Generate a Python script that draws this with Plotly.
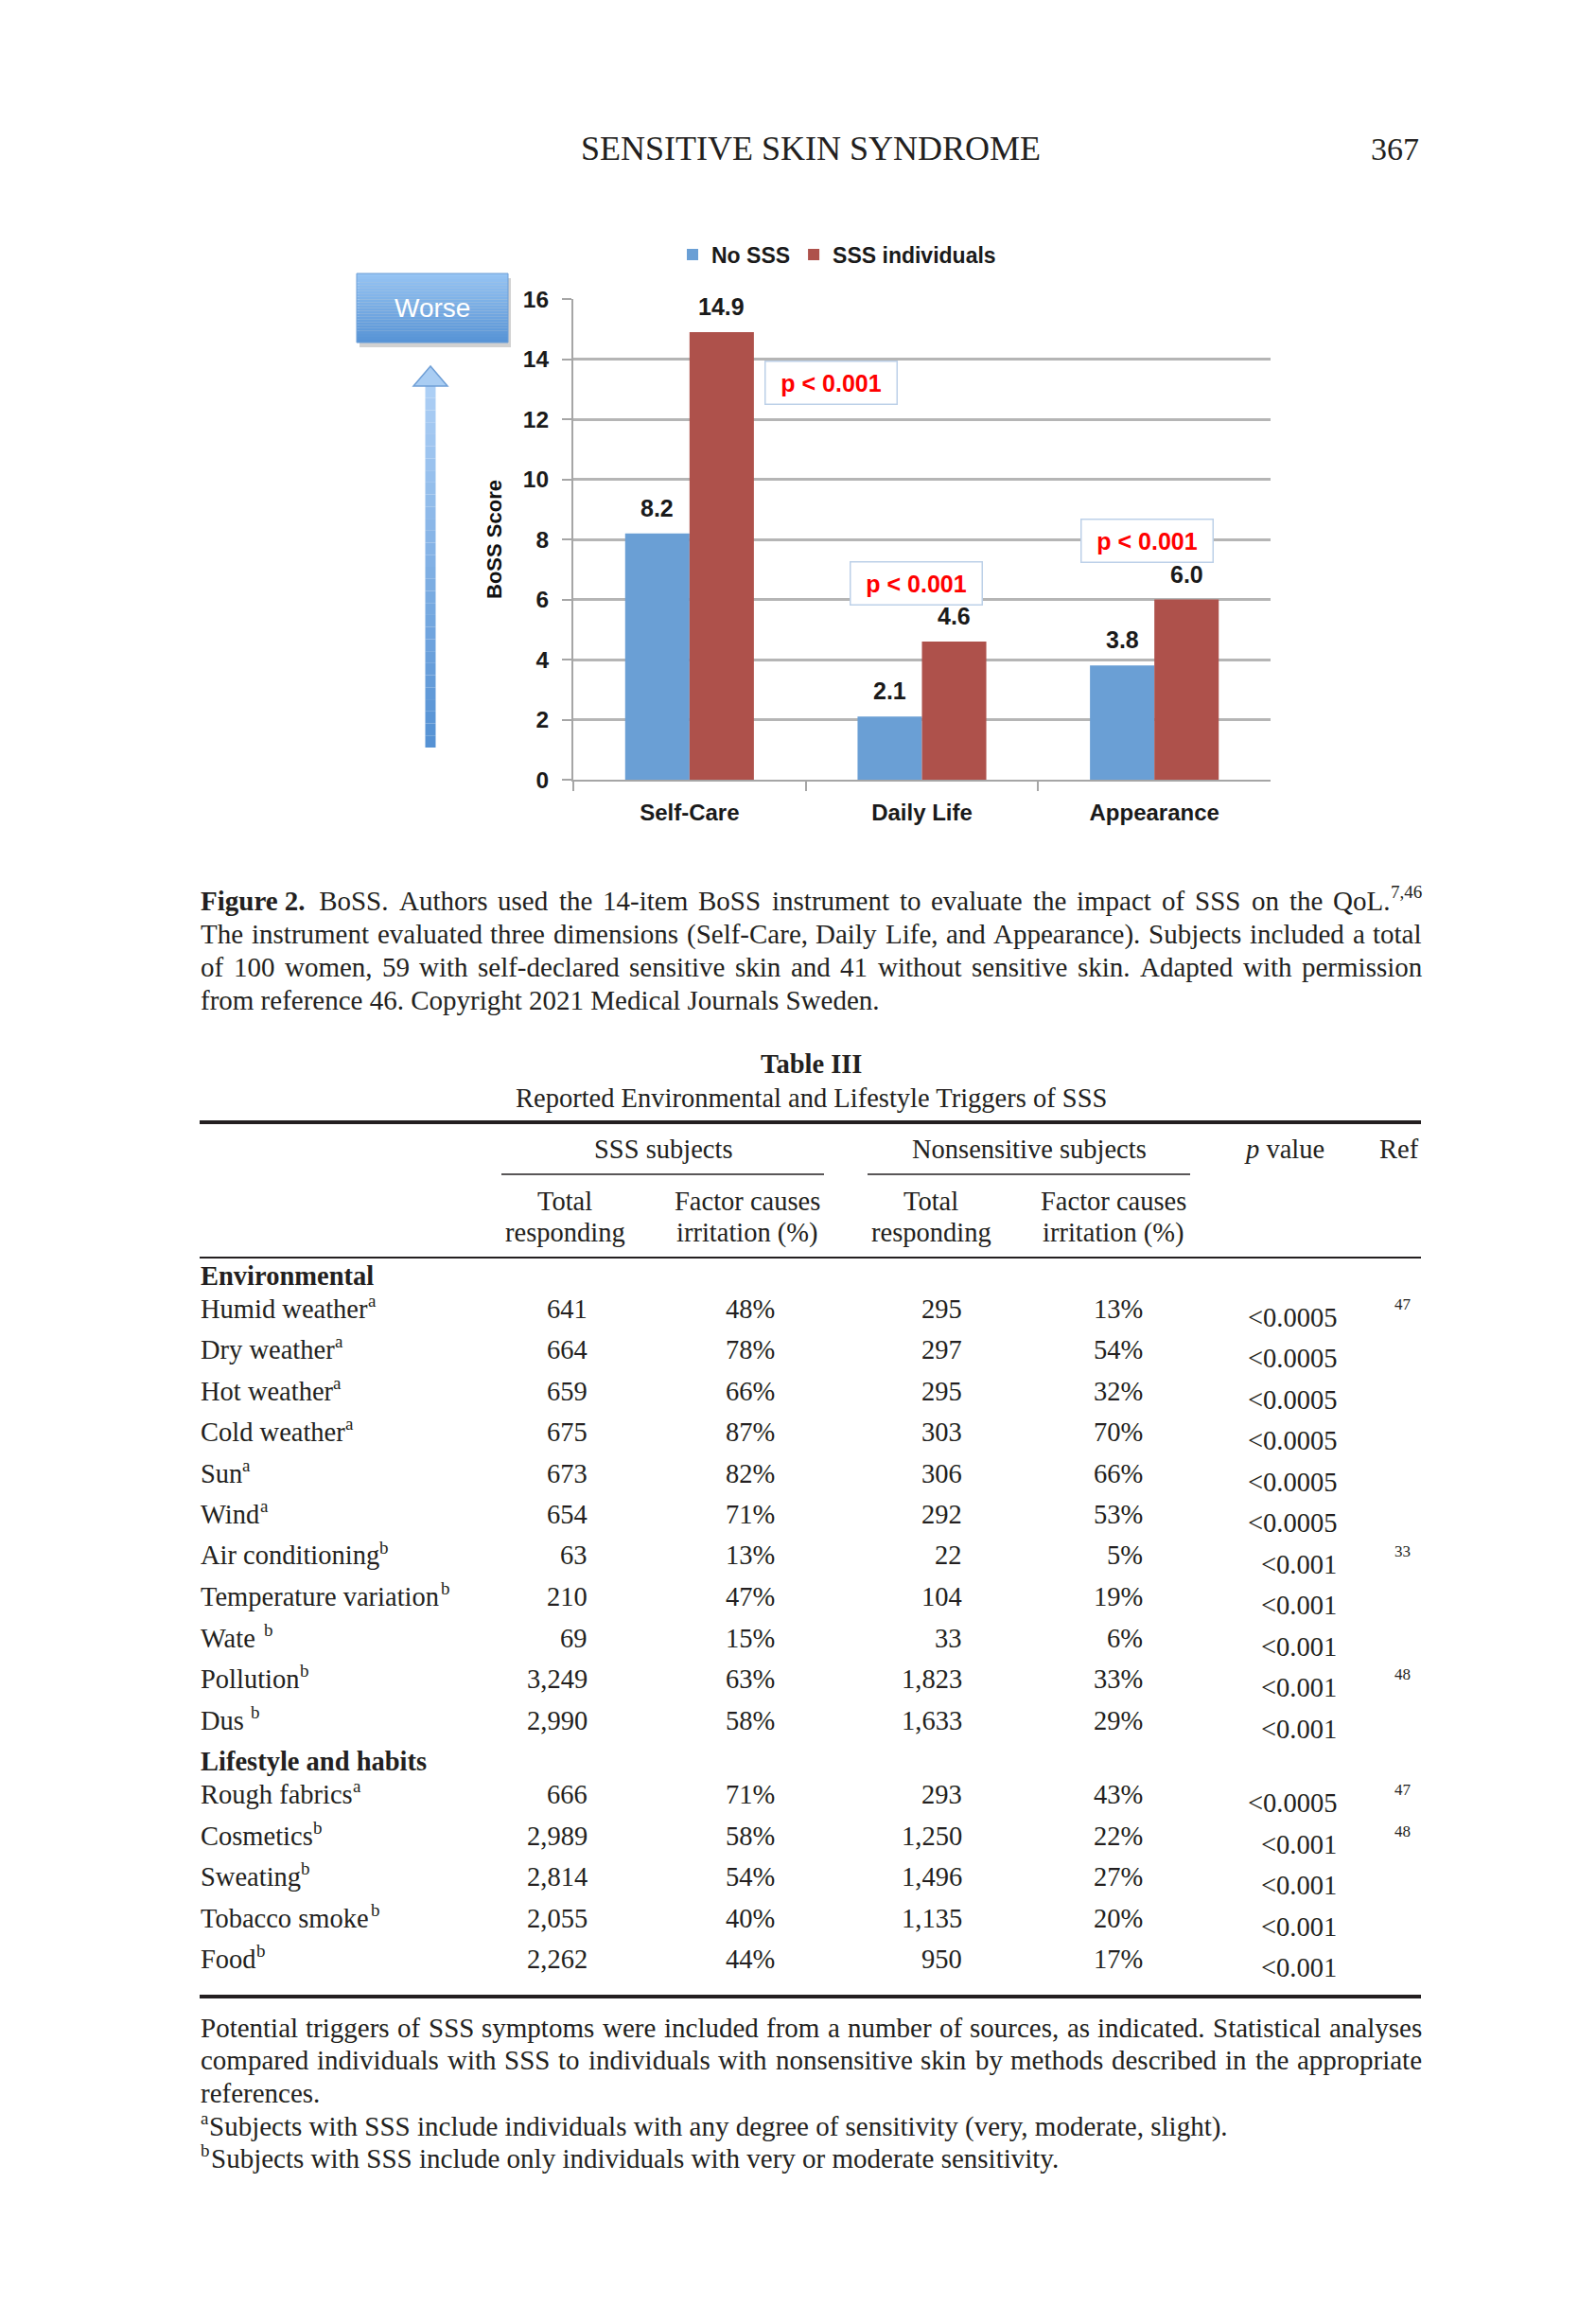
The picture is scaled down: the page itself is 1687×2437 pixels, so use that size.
import re
import plotly.graph_objects as go

W, H = 1687, 2437
OFF = 8  # default page body margin of the written html


def px(x):
    return (x - OFF) / W


def py(y):
    return 1 - (y - OFF) / H


# ---------------- chart data ----------------
categories = ["Self-Care", "Daily Life", "Appearance"]
no_sss = [8.2, 2.1, 3.8]
sss_individuals = [14.9, 4.6, 6.0]
series_names = ["No SSS", "SSS individuals"]
p_labels = ["p < 0.001", "p < 0.001", "p < 0.001"]
p_box_x = [0.61, 0.976, 1.967]
p_box_y = [13.2, 6.55, 7.94]
y_ticks = [0, 2, 4, 6, 8, 10, 12, 14, 16]

# ---------------- table data ----------------
section_names = ["Environmental", "Lifestyle and habits"]
section_sizes = [11, 5]
triggers = ["Humid weather", "Dry weather", "Hot weather", "Cold weather", "Sun", "Wind",
            "Air conditioning", "Temperature variation", "Wate ", "Pollution", "Dus ",
            "Rough fabrics", "Cosmetics", "Sweating", "Tobacco smoke", "Food"]
trigger_notes = ["a", "a", "a", "a", "a", "a", "b", "b", "b", "b", "b", "a", "b", "b", "b", "b"]
sss_total = [641, 664, 659, 675, 673, 654, 63, 210, 69, 3249, 2990, 666, 2989, 2814, 2055, 2262]
sss_pct = [48, 78, 66, 87, 82, 71, 13, 47, 15, 63, 58, 71, 58, 54, 40, 44]
ns_total = [295, 297, 295, 303, 306, 292, 22, 104, 33, 1823, 1633, 293, 1250, 1496, 1135, 950]
ns_pct = [13, 54, 32, 70, 66, 53, 5, 19, 6, 33, 29, 43, 22, 27, 20, 17]
p_values = ["<0.0005"] * 6 + ["<0.001"] * 5 + ["<0.0005"] + ["<0.001"] * 4
refs = ["47", "", "", "", "", "", "33", "", "", "48", "", "47", "48", "", "", ""]

NB = "\u00a0"
# caption / footnote lines: (superscript before, text, superscript after)
caption_lines = [
    ("", "<b>Figure" + NB + "2.</b>" + NB + NB + "BoSS. Authors used the 14-item BoSS instrument to evaluate the impact of SSS on the QoL.", "7,46"),
    ("", "The instrument evaluated three dimensions (Self-Care, Daily Life, and Appearance). Subjects included a total", ""),
    ("", "of 100 women, 59 with self-declared sensitive skin and 41 without sensitive skin. Adapted with permission", ""),
    ("", "from reference 46. Copyright 2021 Medical Journals Sweden.", ""),
]
footnote_lines = [
    ("", "Potential triggers of SSS symptoms were included from a number of sources, as indicated. Statistical analyses", ""),
    ("", "compared individuals with SSS to individuals with nonsensitive skin by methods described in the appropriate", ""),
    ("", "references.", ""),
    ("a", "Subjects with SSS include individuals with any degree of sensitivity (very, moderate, slight).", ""),
    ("b", "Subjects with SSS include only individuals with very or moderate sensitivity.", ""),
]

# ---------------- styles ----------------
CH = "Liberation Sans, Arial, sans-serif"
SERIF = "Liberation Serif, Times New Roman, serif"
TXT = "#231f20"
DARK = "#1a1a1a"
BLUE = "#6a9fd5"
RED = "#ae514b"
BARGAP = 0.446

# Times metrics (Liberation Serif is metric compatible)
TR = {' ': 250, NB: 250, '(': 333, ')': 333, ',': 250, '-': 333, '.': 250, ':': 278, '%': 833,
      'A': 722, 'B': 667, 'C': 667, 'D': 722, 'E': 611, 'F': 556, 'G': 722, 'H': 722, 'I': 333,
      'J': 389, 'K': 722, 'L': 611, 'M': 889, 'N': 722, 'O': 722, 'P': 556, 'Q': 722, 'R': 667,
      'S': 556, 'T': 611, 'U': 722, 'V': 722, 'W': 944, 'X': 722, 'Y': 722, 'Z': 611,
      'a': 444, 'b': 500, 'c': 444, 'd': 500, 'e': 444, 'f': 333, 'g': 500, 'h': 500, 'i': 278,
      'j': 278, 'k': 500, 'l': 278, 'm': 778, 'n': 500, 'o': 500, 'p': 500, 'q': 500, 'r': 333,
      's': 389, 't': 278, 'u': 500, 'v': 500, 'w': 722, 'x': 500, 'y': 500, 'z': 444}
TB = dict(TR)
TB.update({'F': 611, 'i': 278, 'g': 500, 'u': 556, 'r': 444, 'e': 444})


def measure(tok, size):
    total = 0.0
    for m in re.finditer(r'<(b)>(.*?)</\1>|([^<]+)', tok):
        if m.group(1) == 'b':
            total += sum(TB.get(c, 500) for c in m.group(2)) * size / 1000
        else:
            total += sum(TR.get(c, 500) for c in m.group(3)) * size / 1000
    return total


fig = go.Figure()

fig.add_trace(go.Bar(x=categories, y=no_sss, name=series_names[0],
                     marker=dict(color=BLUE, line=dict(width=0))))
fig.add_trace(go.Bar(x=categories, y=sss_individuals, name=series_names[1],
                     marker=dict(color=RED, line=dict(width=0))))

annotations = []
shapes = []


def ann(text, x, y, size, xanchor="center", yanchor="middle", color=TXT, family=SERIF, weight=None, **kw):
    f = dict(family=family, size=size, color=color)
    if weight:
        f["weight"] = weight
    d = dict(text=text, x=px(x), y=py(y), xref="paper", yref="paper", showarrow=False,
             xanchor=xanchor, yanchor=yanchor, font=f)
    d.update(kw)
    annotations.append(d)


def hline(x0, x1, y, width, color="#231f20"):
    shapes.append(dict(type="line", xref="paper", yref="paper", x0=px(x0), x1=px(x1),
                       y0=py(y), y1=py(y), line=dict(color=color, width=width)))


# data labels above bars
bw = (1 - BARGAP) / 2
for i in range(len(categories)):
    for vals, off in ((no_sss, -bw / 2), (sss_individuals, bw / 2)):
        annotations.append(dict(text=f"{vals[i]:.1f}", x=i + off, y=vals[i], xref="x", yref="y",
                                showarrow=False, yanchor="middle", yshift=27,
                                font=dict(family=CH, size=25, color=DARK, weight="bold")))

# p-value boxes
for lab, bx, by in zip(p_labels, p_box_x, p_box_y):
    annotations.append(dict(text=lab, x=bx, y=by, xref="x", yref="y", showarrow=False,
                            font=dict(family=CH, size=25, color="#ff0000", weight="bold"),
                            bgcolor="white", bordercolor="#bcd0e8", borderwidth=1.5,
                            width=136, height=42, borderpad=1))

# "Worse" box with gradient
bx0, bx1, by0, by1 = 377, 537, 289, 362
shapes.append(dict(type="rect", xref="paper", yref="paper", x0=px(bx0 + 3), x1=px(bx1 + 3),
                   y0=py(by1 + 5), y1=py(by0 + 5), line=dict(width=0), fillcolor="rgba(0,0,0,0.18)"))
N = 24
c_top = (150, 196, 243)
c_bot = (88, 148, 214)
for k in range(N):
    t = k / (N - 1)
    col = tuple(int(c_top[j] + (c_bot[j] - c_top[j]) * t) for j in range(3))
    ya = by0 + (by1 - by0) * k / N
    yb = by0 + (by1 - by0) * (k + 1) / N
    shapes.append(dict(type="rect", xref="paper", yref="paper", x0=px(bx0), x1=px(bx1),
                       y0=py(yb), y1=py(ya), line=dict(width=0), fillcolor="rgb(%d,%d,%d)" % col))
shapes.append(dict(type="rect", xref="paper", yref="paper", x0=px(bx0), x1=px(bx1),
                   y0=py(by1), y1=py(by0), line=dict(color="#6d9ed6", width=1)))
ann("Worse", (bx0 + bx1) / 2, (by0 + by1) / 2, 28, color="white", family=CH)

# upward arrow
ax_c, sh_w, head_w = 455, 11, 36
head_top, head_base, shaft_bot = 387, 408, 790
a_top = (172, 207, 245)
a_bot = (86, 146, 212)
M = 30
for k in range(M):
    t = k / (M - 1)
    col = tuple(int(a_top[j] + (a_bot[j] - a_top[j]) * t) for j in range(3))
    ya = head_base + (shaft_bot - head_base) * k / M
    yb = head_base + (shaft_bot - head_base) * (k + 1) / M
    shapes.append(dict(type="rect", xref="paper", yref="paper", x0=px(ax_c - sh_w / 2),
                       x1=px(ax_c + sh_w / 2), y0=py(yb), y1=py(ya), line=dict(width=0),
                       fillcolor="rgb(%d,%d,%d)" % col))
path = "M {:.5f},{:.5f} L {:.5f},{:.5f} L {:.5f},{:.5f} Z".format(
    px(ax_c), py(head_top), px(ax_c - head_w / 2), py(head_base), px(ax_c + head_w / 2), py(head_base))
shapes.append(dict(type="path", xref="paper", yref="paper", path=path,
                   fillcolor="#a9cdf3", line=dict(color="#6f9fd6", width=1.5)))

# ---------------- page header ----------------
ann("SENSITIVE SKIN SYNDROME", 857, 157, 36)
ann("367", 1502, 157, 34, xanchor="right")

SUP_RATIO = 0.66
SUP_RISE = 9


def text_line(spec, y, size, justify, x0=211, x1=1502):
    pre, body, post = spec
    sup_size = round(size * SUP_RATIO)
    x = x0
    if pre:
        ann(pre, x, y - SUP_RISE, sup_size, xanchor="left", borderpad=0)
        x += measure(pre, sup_size) + 1
    post_w = measure(post, sup_size) if post else 0
    if not justify:
        ann(body, x, y, size, xanchor="left", borderpad=0)
        x += measure(body, size)
    else:
        words = [w for w in body.split(" ") if w]
        widths = [measure(w, size) for w in words]
        end = x1 - post_w
        gap = (end - x - sum(widths)) / (len(words) - 1)
        gap = max(gap, 0.12 * size)
        for w, wd in zip(words, widths):
            ann(w, x, y, size, xanchor="left", borderpad=0)
            x += wd + gap
        x -= gap
    if post:
        ann(post, x, y - SUP_RISE, sup_size, xanchor="left", borderpad=0)


CAP = 29
cap_y = [952, 987, 1022, 1057]
for i, line in enumerate(caption_lines):
    text_line(line, cap_y[i], CAP, justify=(i < 3))

foot_y = [2143, 2177, 2212, 2247, 2281]
for i, line in enumerate(footnote_lines):
    text_line(line, foot_y[i], CAP, justify=(i < 2))

# ---------------- table ----------------
TS = 28.5
ann("<b>Table III</b>", 857, 1124, TS)
ann("Reported Environmental and Lifestyle Triggers of SSS", 857, 1160, TS)
hline(211, 1502, 1186, 4)
ann("SSS subjects", 701, 1214, TS)
ann("Nonsensitive subjects", 1088, 1214, TS)
ann("<i>p</i> value", 1357, 1214, TS)
ann("Ref", 1502, 1214, TS, xanchor="right")
hline(530, 871, 1241, 1.5)
hline(917, 1258, 1241, 1.5)
for cx, l1, l2 in ((597, "Total", "responding"), (790, "Factor causes", "irritation (%)"),
                   (984, "Total", "responding"), (1177, "Factor causes", "irritation (%)")):
    ann(l1, cx, 1269, TS)
    ann(l2, cx, 1303, TS)
hline(211, 1502, 1329, 1.8)

col_right = [623, 821, 1019, 1210]
p_right = 1415
ref_left = 1472
y = 1348
idx = 0
for sname, ssize in zip(section_names, section_sizes):
    ann("<b>%s</b>" % sname, 211, y, TS, xanchor="left", borderpad=0)
    y += 35
    for _ in range(ssize):
        text_line(("", triggers[idx], trigger_notes[idx]), y, TS, justify=False)
        ann(f"{sss_total[idx]:,}", col_right[0], y, TS, xanchor="right")
        ann(f"{sss_pct[idx]}%", col_right[1], y, TS, xanchor="right")
        ann(f"{ns_total[idx]:,}", col_right[2], y, TS, xanchor="right")
        ann(f"{ns_pct[idx]}%", col_right[3], y, TS, xanchor="right")
        ann(p_values[idx], p_right, y + 9, TS, xanchor="right")
        if refs[idx]:
            ann(refs[idx], ref_left, y - 5, 17, xanchor="left")
        idx += 1
        y += 43.5
hline(211, 1502, 2110, 4)

fig.update_layout(
    template="none",
    width=W, height=H,
    margin=dict(l=0, r=0, t=0, b=0),
    paper_bgcolor="white", plot_bgcolor="white",
    barmode="group", bargap=BARGAP, bargroupgap=0,
    showlegend=True,
    legend=dict(orientation="h", x=px(712), y=py(269), xanchor="left", yanchor="middle",
                font=dict(family=CH, size=23, color=DARK, weight="bold"),
                bgcolor="rgba(0,0,0,0)", borderwidth=0, itemwidth=30, traceorder="normal"),
    xaxis=dict(domain=[px(606), px(1343)], type="category", range=[-0.5, 2.5],
               showgrid=False, zeroline=False, showline=True, linecolor="#a6a6a6", linewidth=2,
               ticks="outside", tickson="boundaries", ticklen=10, tickcolor="#a6a6a6", tickwidth=2,
               tickfont=dict(family=CH, size=24, color=DARK, weight="bold"), ticklabelstandoff=12),
    yaxis=dict(domain=[py(824), py(316)], range=[0, 16], tickvals=y_ticks,
               showgrid=True, gridcolor="#b5b5b5", gridwidth=3, zeroline=False,
               showline=True, linecolor="#a6a6a6", linewidth=2,
               ticks="outside", ticklen=10, tickcolor="#a6a6a6", tickwidth=2,
               tickfont=dict(family=CH, size=24.5, color=DARK, weight="bold"), ticklabelstandoff=9,
               title=dict(text="BoSS Score", font=dict(family=CH, size=22, color="#111111", weight="bold"),
                          standoff=16)),
    annotations=annotations,
    shapes=shapes,
)

fig.write_html("out.html")
